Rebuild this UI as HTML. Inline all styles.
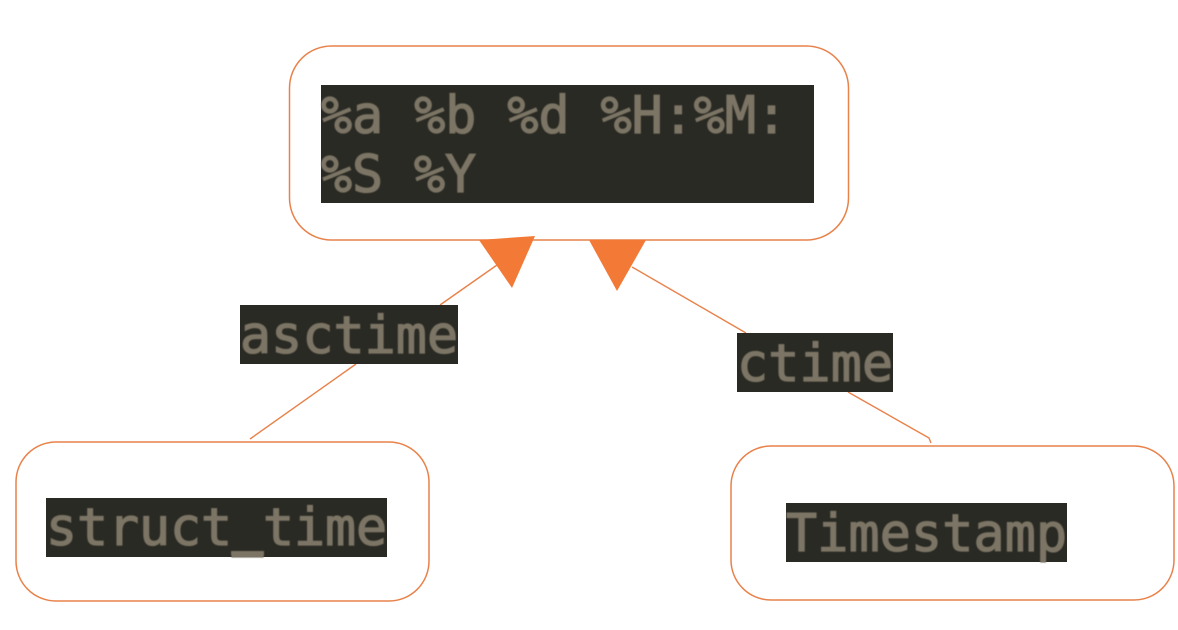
<!DOCTYPE html>
<html>
<head>
<meta charset="utf-8">
<style>
html,body{margin:0;padding:0;background:#fff;width:1178px;height:630px;overflow:hidden}
svg{display:block}
text{font-family:"DejaVu Sans Mono","Liberation Mono",monospace;font-size:51.6px;fill:#7b7565;stroke:#7b7565;stroke-width:1.3px;font-weight:400}
</style>
</head>
<body>
<svg width="1178" height="630" viewBox="0 0 1178 630" xmlns="http://www.w3.org/2000/svg">
<defs><filter id="b" x="-2%" y="-10%" width="104%" height="120%"><feGaussianBlur stdDeviation="0.4"/></filter></defs>
<rect width="1178" height="630" fill="#fff"/>
<g fill="#fff" stroke="#e8824a" stroke-width="1.5">
<rect x="289.5" y="46" width="559" height="194" rx="42" ry="42"/>
<rect x="16" y="442" width="413" height="159" rx="40" ry="40"/>
<rect x="731" y="446" width="443" height="154" rx="40" ry="40"/>
</g>
<g stroke="#e8824a" stroke-width="1.4" fill="none">
<line x1="250" y1="439" x2="356" y2="364"/>
<line x1="440" y1="305" x2="497" y2="265"/>
<line x1="632" y1="267" x2="746" y2="333"/>
<polyline points="848,392 929,438 931,443"/>
</g>
<g fill="#f27a36">
<polygon points="479,240 535,236 512,288"/>
<polygon points="589,240 646,240 617,291"/>
</g>
<g fill="#2a2a24">
<rect x="321" y="85" width="493" height="118"/>
<rect x="240" y="305" width="218" height="59"/>
<rect x="737" y="333" width="156" height="59"/>
<rect x="46" y="498" width="341" height="59"/>
<rect x="786" y="503" width="281" height="59"/>
</g>
<g filter="url(#b)">
<text x="321" y="133" textLength="466" lengthAdjust="spacing" xml:space="preserve">%a %b %d %H:%M:</text>
<text x="321" y="192" textLength="155" lengthAdjust="spacing" xml:space="preserve">%S %Y</text>
<text x="240" y="353" textLength="218" lengthAdjust="spacing">asctime</text>
<text x="737" y="381" textLength="156" lengthAdjust="spacing">ctime</text>
<text x="46" y="545" textLength="341" lengthAdjust="spacing">struct_time</text>
<text x="786" y="551" textLength="281" lengthAdjust="spacing">Timestamp</text>
<rect x="231" y="551" width="33" height="4" fill="#7b7565"/>
</g>
</svg>
</body>
</html>
